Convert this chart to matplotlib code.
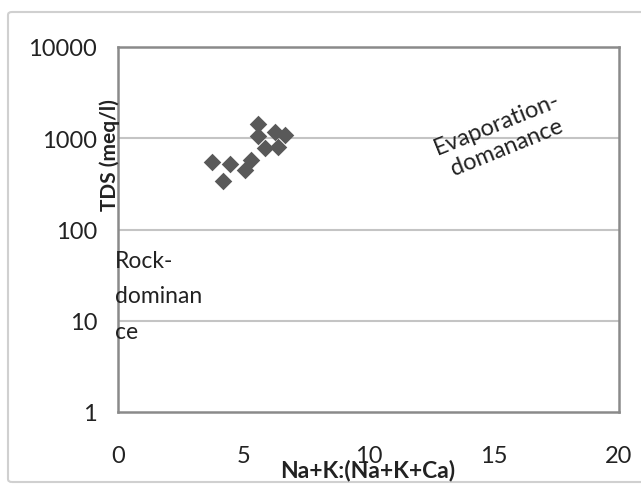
import matplotlib
matplotlib.use("Agg")
import matplotlib.pyplot as plt
from matplotlib.patches import FancyBboxPatch
from matplotlib.ticker import FixedLocator, FixedFormatter

plt.rcParams['font.family'] = ['Lato', 'DejaVu Sans']

# Gibbs diagram samples
ratio = [3.75, 4.47, 4.19, 5.07, 5.31, 5.59, 5.59, 5.87, 6.27, 6.67, 6.39]
tds = [549, 522, 340, 449, 578, 1432, 1058, 782, 1170, 1086, 802]

x_ticks = [0, 5, 10, 15, 20]
y_ticks = [1, 10, 100, 1000, 10000]
y_tick_labels = ["1", "10", "100", "1000", "10000"]

W, H = 641, 485
fig = plt.figure(figsize=(W / 100, H / 100), dpi=100)

# outer chart border
fig.patches.append(FancyBboxPatch((8 / W, 2 / H), (W + 20) / W, (H - 15) / H,
                                  boxstyle="round,pad=0,rounding_size=0.006",
                                  transform=fig.transFigure, fill=False,
                                  edgecolor="#d0d0d0", lw=1.5))

ax = fig.add_axes([118 / W, (H - 413) / H, (619 - 118) / W, (413 - 48) / H])
ax.set_yscale("log")
ax.set_xlim(0, 20)
ax.set_ylim(1, 10000)

for v in y_ticks[1:-1]:
    ax.axhline(v, color="#c4c4c4", lw=1.5, zorder=1)

ax.scatter(ratio, tds, marker="D", s=80, color="#595959", zorder=3, linewidths=0)

ax.xaxis.set_major_locator(FixedLocator(x_ticks))
ax.yaxis.set_major_locator(FixedLocator(y_ticks))
ax.yaxis.set_major_formatter(FixedFormatter(y_tick_labels))
ax.yaxis.set_minor_locator(FixedLocator([]))
ax.tick_params(axis="both", length=0, labelsize=17, colors="#222222")
ax.tick_params(axis="x", pad=24)
ax.tick_params(axis="y", pad=15)

for s in ax.spines.values():
    s.set_color("#8a8a8a")
    s.set_linewidth(1.8)

fig.text(368 / W, 1 - 471 / H, "Na+K:(Na+K+Ca)", ha="center", va="center",
         fontsize=16.5, fontweight="bold", color="#222222")
fig.text(110 / W, 1 - 155 / H, "TDS (meq/l)", ha="center", va="center",
         rotation=90, fontsize=15, fontweight="bold", color="#222222")

fig.text(502 / W, 1 - 136 / H, "Evaporation-\ndomanance", ha="center", va="center",
         rotation=22, rotation_mode="anchor", fontsize=17, color="#222222",
         linespacing=1.2)
fig.text(115 / W, 1 - 251 / H, "Rock-\ndominan\nce", ha="left", va="top",
         fontsize=16.5, color="#222222", linespacing=1.85)

fig.savefig("out.png", dpi=100)
